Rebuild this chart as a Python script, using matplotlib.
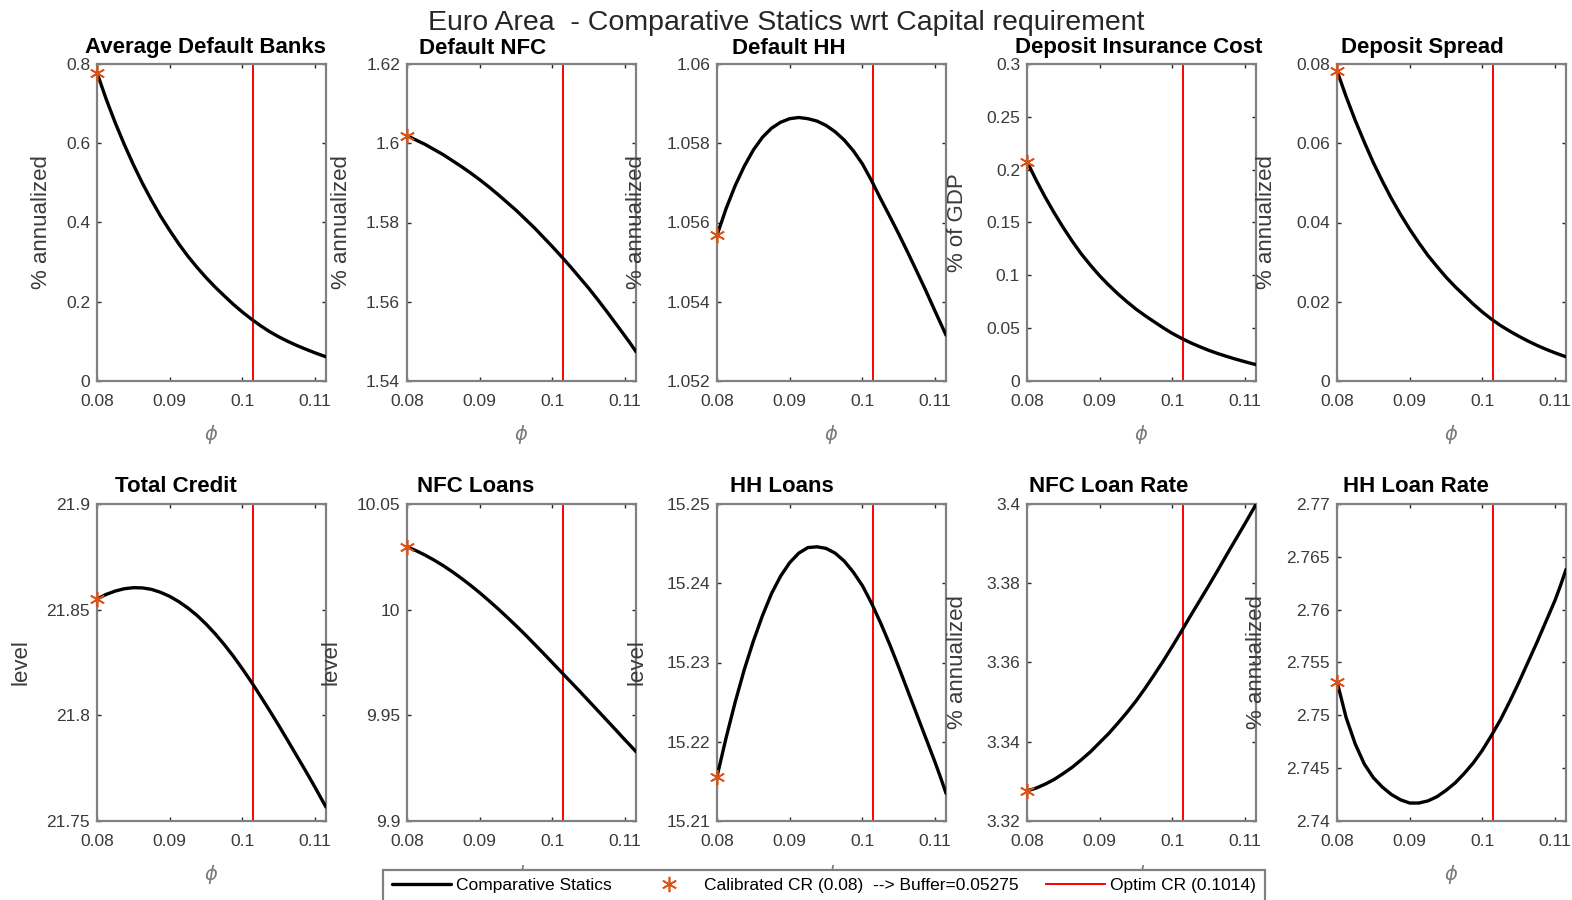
import matplotlib
matplotlib.use('Agg')
import matplotlib.pyplot as plt
from matplotlib.ticker import FuncFormatter, MultipleLocator

plt.rcParams['font.family'] = ['Liberation Sans', 'DejaVu Sans']
plt.rcParams['mathtext.fontset'] = 'dejavusans'

# capital requirement grid (x axis)
phi = [0.08, 0.08125, 0.0825, 0.08375, 0.085, 0.08625, 0.0875, 0.08875, 0.09,
       0.09125, 0.0925, 0.09375, 0.095, 0.09625, 0.0975, 0.09875, 0.1, 0.10125,
       0.1025, 0.10375, 0.105, 0.10625, 0.1075, 0.10875, 0.11, 0.11075, 0.1115]
optim_cr = 0.1014

# values
avg_default_banks = [0.778, 0.712, 0.652, 0.597, 0.546, 0.499, 0.456, 0.416, 0.380,
                     0.346, 0.315, 0.287, 0.261, 0.237, 0.215, 0.1935, 0.174, 0.156,
                     0.1395, 0.1245, 0.1115, 0.100, 0.0895, 0.080, 0.071, 0.066, 0.061]
default_nfc = [1.6019, 1.6008, 1.5997, 1.5984, 1.5971, 1.5956, 1.5941, 1.5925, 1.5908,
               1.5890, 1.5871, 1.5851, 1.5831, 1.5809, 1.5787, 1.5763, 1.5739, 1.5714,
               1.5688, 1.5661, 1.5634, 1.5605, 1.5575, 1.5544, 1.5513, 1.5494, 1.5474]
default_hh = [1.05568, 1.05635, 1.05693, 1.05742, 1.05783, 1.05815, 1.05838, 1.05853,
              1.05862, 1.05865, 1.05862, 1.05856, 1.05845, 1.05829, 1.05808, 1.05781,
              1.05748, 1.05706, 1.0566, 1.05616, 1.05571, 1.05524, 1.05476, 1.05427,
              1.05376, 1.05346, 1.05316]
dep_ins_cost = [0.2077, 0.1902, 0.174, 0.159, 0.145, 0.132, 0.120, 0.1094, 0.0995,
                0.0907, 0.0825, 0.075, 0.068, 0.0618, 0.056, 0.0503, 0.045, 0.0404,
                0.0362, 0.0325, 0.029, 0.026, 0.0232, 0.0206, 0.0182, 0.0168, 0.0155]
dep_spread = [0.0783, 0.0718, 0.0658, 0.0603, 0.0551, 0.0504, 0.0460, 0.0420, 0.0383,
              0.0349, 0.0317, 0.0289, 0.0262, 0.0238, 0.0216, 0.0194, 0.0174, 0.0156,
              0.0140, 0.0126, 0.0113, 0.0101, 0.0090, 0.0080, 0.0071, 0.0066, 0.0061]
total_credit = [21.855, 21.8572, 21.8588, 21.8599, 21.8604, 21.8603, 21.8596, 21.8582,
                21.8563, 21.8538, 21.8508, 21.8473, 21.8432, 21.8386, 21.8335, 21.828,
                21.822, 21.8157, 21.809, 21.8022, 21.7952, 21.788, 21.7807, 21.7734,
                21.7659, 21.7612, 21.7566]
nfc_loans = [10.0298, 10.0279, 10.0258, 10.0234, 10.0208, 10.0179, 10.0148, 10.0115,
             10.0080, 10.0043, 10.0005, 9.9965, 9.9924, 9.9882, 9.9838, 9.9794,
             9.9749, 9.9704, 9.9659, 9.9614, 9.9568, 9.9522, 9.9476, 9.9430,
             9.9383, 9.9356, 9.9328]
hh_loans = [15.2156, 15.2205, 15.2250, 15.2291, 15.2327, 15.2359, 15.2387, 15.2409,
            15.2426, 15.2438, 15.2445, 15.2446, 15.2444, 15.2438, 15.2428, 15.2414,
            15.2397, 15.2375, 15.2350, 15.2323, 15.2294, 15.2264, 15.2234, 15.2204,
            15.2174, 15.2155, 15.2135]
nfc_loan_rate = [3.3276, 3.3283, 3.3293, 3.3305, 3.3320, 3.3336, 3.3355, 3.3375,
                 3.3398, 3.3421, 3.3447, 3.3474, 3.3503, 3.3535, 3.3569, 3.3604,
                 3.3641, 3.3679, 3.3718, 3.3756, 3.3794, 3.3833, 3.3873, 3.3912,
                 3.3951, 3.3975, 3.3999]
hh_loan_rate = [2.7532, 2.7498, 2.7473, 2.7454, 2.7441, 2.7432, 2.7425, 2.7420,
                2.7417, 2.7417, 2.7419, 2.7423, 2.7429, 2.7436, 2.7445, 2.7455,
                2.7467, 2.7481, 2.7496, 2.7513, 2.7531, 2.7550, 2.7569, 2.7589,
                2.7609, 2.7623, 2.7638]

series = [avg_default_banks, default_nfc, default_hh, dep_ins_cost, dep_spread,
          total_credit, nfc_loans, hh_loans, nfc_loan_rate, hh_loan_rate]
titles = ['Average Default Banks', 'Default NFC', 'Default HH', 'Deposit Insurance Cost',
          'Deposit Spread', 'Total Credit', 'NFC Loans', 'HH Loans', 'NFC Loan Rate',
          'HH Loan Rate']
ylabels = ['% annualized', '% annualized', '% annualized', '% of GDP', '% annualized',
           'level', 'level', 'level', '% annualized', '% annualized']
ylims = [(0, 0.8), (1.54, 1.62), (1.052, 1.06), (0, 0.3), (0, 0.08),
         (21.75, 21.9), (9.9, 10.05), (15.21, 15.25), (3.32, 3.4), (2.74, 2.77)]
ysteps = [0.2, 0.02, 0.002, 0.05, 0.02, 0.05, 0.05, 0.01, 0.02, 0.005]
xticks = [0.08, 0.09, 0.1, 0.11]
legend_labels = ['Comparative Statics', 'Calibrated CR (0.08)  --> Buffer=0.05275',
                 'Optim CR (0.1014)']

# layout in pixels
W, H = 1572, 900
lefts = [97, 407, 717, 1027, 1337]
tops = [64, 504]
aw, ah = 229, 317
# distance (px) from axes left edge to y label anchor
ylab_off = [[45, 55, 70, 59, 60], [65, 66, 69, 59, 70]]
title_dy = [16, 17]

txt = '#3a3a3a'
fmt = FuncFormatter(lambda v, p: '%g' % round(v, 6))

fig = plt.figure(figsize=(W / 100, H / 100), dpi=100)
fig.text(0.5, 1 - 23 / H, 'Euro Area  - Comparative Statics wrt Capital requirement',
         ha='center', va='center', fontsize=20.5, color='#262626')

handles = None
for i in range(10):
    r, c = divmod(i, 5)
    ax = fig.add_axes([lefts[c] / W, 1 - (tops[r] + ah) / H, aw / W, ah / H])
    y = series[i]
    l1, = ax.plot(phi, y, color='k', lw=2.4, zorder=3,
                  solid_joinstyle='round', solid_capstyle='round')
    l2, = ax.plot(phi[0], y[0], ls='none', marker=(6, 2, 0), ms=11, mec='#D95319',
                  mew=1.2, zorder=4, clip_on=False)
    l3 = ax.axvline(optim_cr, color='r', lw=1.4, zorder=2)
    if handles is None:
        handles = [l1, l2, l3]

    ax.set_xlim(0.08, 0.1115)
    ax.set_ylim(*ylims[i])
    ax.set_xticks(xticks)
    ax.yaxis.set_major_locator(MultipleLocator(ysteps[i]))
    ax.xaxis.set_major_formatter(fmt)
    ax.yaxis.set_major_formatter(fmt)
    ax.tick_params(direction='in', length=3, width=1, top=True, right=True,
                   labelsize=12.5, labelcolor=txt, color='#262626')
    ax.tick_params(axis='x', pad=9)
    ax.tick_params(axis='y', pad=5)
    for s in ax.spines.values():
        s.set_color('#808080')
        s.set_linewidth(1.6)

    # titles were padded to equal length, so shorter ones sit left of centre
    shift = (3 + 3.3 * (22 - len(titles[i]))) / aw
    ax.text(0.5 - shift, 1 + title_dy[r] / ah, titles[i], transform=ax.transAxes,
            ha='center', va='center', fontsize=16, fontweight='bold')

    ax.set_ylabel(ylabels[i], fontsize=16, color=txt)
    ax.yaxis.set_label_coords(-ylab_off[r][c] / aw, 0.5)
    ax.set_xlabel(r'$\phi$', fontsize=14, color='#7a7a7a')
    ax.xaxis.set_label_coords(0.5, -42 / ah)

leg = fig.legend(handles, legend_labels, loc='lower center', ncol=3,
                 bbox_to_anchor=(824 / W, -0.012), fontsize=12.5, frameon=True,
                 fancybox=False, framealpha=1, edgecolor='#808080',
                 handlelength=3.4, handletextpad=0.3, columnspacing=1.6,
                 borderpad=0.5)
leg.get_frame().set_linewidth(1.6)

fig.savefig('out.png', dpi=100)
